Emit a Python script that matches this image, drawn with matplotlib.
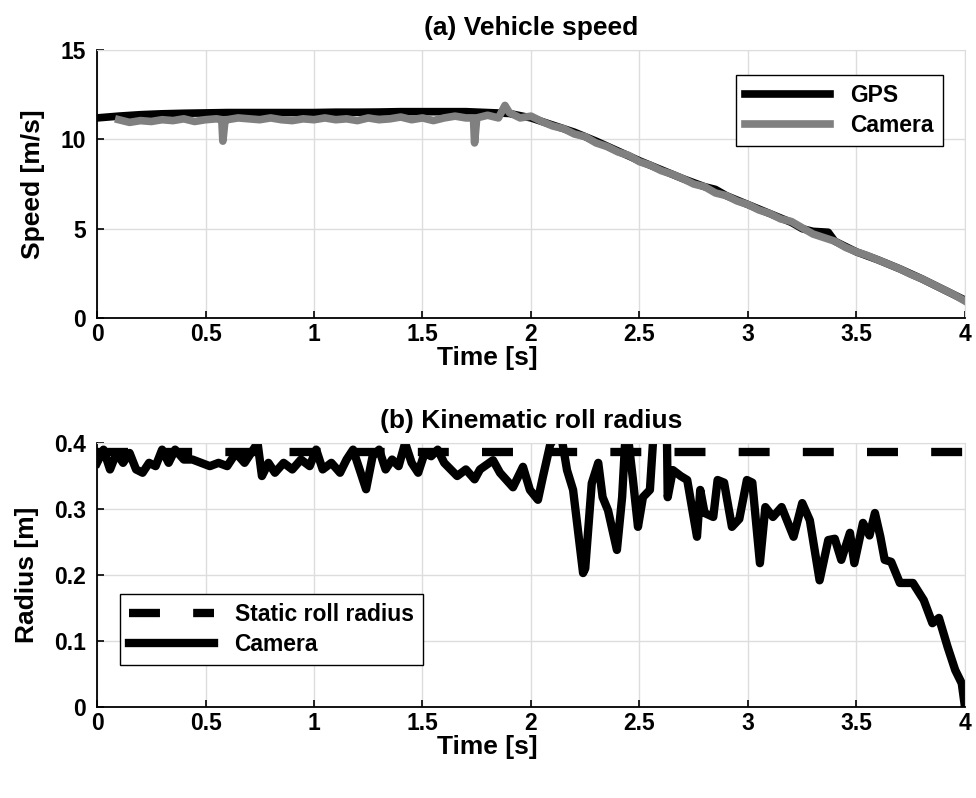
import matplotlib
matplotlib.use('Agg')
import matplotlib.pyplot as plt
import numpy as np

plt.rcParams['font.family'] = ['Liberation Sans', 'DejaVu Sans']
plt.rcParams['font.weight'] = 'bold'
plt.rcParams['axes.labelweight'] = 'bold'
plt.rcParams['axes.titleweight'] = 'bold'

# (a) vehicle speed
gps_t = [0.0, 0.1, 0.2, 0.3, 0.4, 0.5, 0.6, 0.7, 0.8, 0.9, 1.0, 1.1, 1.2, 1.3,
         1.4, 1.5, 1.6, 1.7, 1.8, 1.9, 2.0, 2.1, 2.2, 2.3, 2.4, 2.5, 2.6, 2.7,
         2.8, 2.85, 2.9, 3.0, 3.1, 3.2, 3.25, 3.3, 3.37, 3.4, 3.5, 3.6, 3.7,
         3.8, 3.9, 4.0]
gps_v = [11.2, 11.3, 11.38, 11.43, 11.46, 11.48, 11.5, 11.5, 11.5, 11.5, 11.5,
         11.52, 11.52, 11.53, 11.55, 11.55, 11.55, 11.55, 11.5, 11.45, 11.2,
         10.8, 10.4, 9.9, 9.35, 8.8, 8.3, 7.8, 7.35, 7.2, 6.85, 6.35, 5.85,
         5.35, 5.0, 4.85, 4.8, 4.3, 3.7, 3.25, 2.75, 2.2, 1.6, 1.0]

cam_t = [0.1, 0.15, 0.2, 0.25, 0.3, 0.35, 0.4, 0.45, 0.5, 0.55, 0.575, 0.58,
         0.59, 0.6, 0.65, 0.7, 0.75, 0.8, 0.85, 0.9, 0.95, 1.0, 1.05, 1.1,
         1.15, 1.2, 1.25, 1.3, 1.35, 1.4, 1.45, 1.5, 1.55, 1.6, 1.65, 1.7,
         1.735, 1.74, 1.75, 1.8, 1.85, 1.88, 1.9, 1.95, 2.0, 2.05, 2.1, 2.15,
         2.2, 2.25, 2.3, 2.35, 2.4, 2.45, 2.5, 2.55, 2.6, 2.65, 2.7, 2.75,
         2.8, 2.85, 2.9, 2.95, 3.0, 3.05, 3.1, 3.15, 3.2, 3.25, 3.3, 3.35,
         3.4, 3.45, 3.5, 3.55, 3.6, 3.65, 3.7, 3.75, 3.8, 3.85, 3.9, 3.95, 4.0]
cam_v = [11.1, 10.95, 11.05, 11.0, 11.1, 11.05, 11.15, 11.0, 11.1, 11.15,
         11.1, 9.9, 11.1, 11.1, 11.2, 11.15, 11.1, 11.2, 11.1, 11.05, 11.15,
         11.1, 11.2, 11.1, 11.15, 11.05, 11.2, 11.1, 11.15, 11.25, 11.1, 11.2,
         11.05, 11.2, 11.3, 11.2, 11.2, 9.8, 11.2, 11.35, 11.2, 11.9, 11.5,
         11.2, 11.3, 11.0, 10.75, 10.6, 10.3, 10.15, 9.8, 9.6, 9.3, 9.1, 8.75,
         8.55, 8.25, 8.05, 7.8, 7.5, 7.35, 7.0, 6.85, 6.55, 6.35, 6.05, 5.85,
         5.55, 5.4, 5.05, 4.7, 4.5, 4.3, 3.95, 3.7, 3.5, 3.25, 3.0, 2.75, 2.45,
         2.2, 1.9, 1.6, 1.3, 0.95]

# (b) kinematic roll radius
static_r = 0.387
rad_t = [0.0, 0.03, 0.06, 0.09, 0.12, 0.15, 0.18, 0.21, 0.24, 0.27, 0.3, 0.33,
         0.36, 0.4, 0.44, 0.48, 0.52, 0.56, 0.6, 0.64, 0.68, 0.72, 0.74, 0.76,
         0.79, 0.82, 0.86, 0.9, 0.94, 0.98, 1.01, 1.04, 1.08, 1.12, 1.15,
         1.18, 1.21, 1.24, 1.27, 1.3, 1.33, 1.36, 1.39, 1.42, 1.45, 1.48,
         1.51, 1.54, 1.57, 1.6, 1.63, 1.66, 1.7, 1.74, 1.765, 1.825, 1.857,
         1.917, 1.963, 1.995, 2.032, 2.055, 2.088, 2.11, 2.14, 2.166, 2.194,
         2.24, 2.25, 2.28, 2.31, 2.33, 2.355, 2.396, 2.42, 2.433, 2.447, 2.47,
         2.493, 2.516, 2.548, 2.562, 2.59, 2.625, 2.63, 2.654, 2.69, 2.72,
         2.765, 2.78, 2.8, 2.84, 2.86, 2.89, 2.926, 2.96, 2.995, 3.02, 3.055,
         3.08, 3.115, 3.155, 3.21, 3.25, 3.285, 3.33, 3.37, 3.4, 3.43, 3.47,
         3.49, 3.53, 3.56, 3.585, 3.61, 3.63, 3.66, 3.7, 3.76, 3.81, 3.85,
         3.88, 3.92, 3.955, 3.985, 4.0]
rad_r = [0.37, 0.39, 0.36, 0.385, 0.37, 0.385, 0.36, 0.355, 0.37, 0.365, 0.39,
         0.37, 0.39, 0.375, 0.375, 0.37, 0.365, 0.37, 0.365, 0.385, 0.37,
         0.39, 0.40, 0.35, 0.37, 0.355, 0.37, 0.36, 0.375, 0.365, 0.39, 0.36,
         0.37, 0.355, 0.375, 0.39, 0.36, 0.33, 0.38, 0.39, 0.36, 0.375, 0.365,
         0.40, 0.37, 0.355, 0.385, 0.38, 0.39, 0.37, 0.36, 0.35, 0.36, 0.345,
         0.36, 0.374, 0.355, 0.333, 0.364, 0.329, 0.314, 0.349, 0.397, 0.41,
         0.41, 0.359, 0.329, 0.203, 0.21, 0.339, 0.37, 0.318, 0.298, 0.238,
         0.318, 0.397, 0.41, 0.344, 0.273, 0.318, 0.329, 0.40, 0.45, 0.45,
         0.318, 0.359, 0.35, 0.344, 0.258, 0.329, 0.294, 0.288, 0.344, 0.34,
         0.273, 0.285, 0.344, 0.34, 0.218, 0.303, 0.288, 0.303, 0.258, 0.309,
         0.283, 0.192, 0.253, 0.255, 0.223, 0.264, 0.218, 0.279, 0.26, 0.294,
         0.258, 0.223, 0.22, 0.188, 0.188, 0.162, 0.127, 0.135, 0.091, 0.056,
         0.036, 0.0]

fig = plt.figure(figsize=(9.76, 7.98), dpi=100)
ax1 = fig.add_axes([0.0994, 0.6015, 0.8893, 0.3358])
ax2 = fig.add_axes([0.0994, 0.1140, 0.8893, 0.3308])

leg_kw = dict(fontsize=16.5, frameon=True, fancybox=False, edgecolor='black',
              framealpha=1, handlelength=3.7, handletextpad=0.9,
              borderpad=0.4, labelspacing=0.3, borderaxespad=0)

ax1.plot(gps_t, gps_v, color='black', lw=5.5, label='GPS')
ax1.plot(cam_t, cam_v, color='#808080', lw=5.5, label='Camera')
ax1.set_xlim(0, 4)
ax1.set_ylim(0, 15)
ax1.set_yticks([0, 5, 10, 15])
ax1.set_title('(a) Vehicle speed', fontsize=19, pad=11)
ax1.set_ylabel('Speed [m/s]', fontsize=19, labelpad=11)
ax1.set_xlabel('Time [s]', fontsize=19)
ax1.legend(loc='upper right', bbox_to_anchor=(0.975, 0.907), **leg_kw)

lw2 = 6
ax2.plot([0, 4], [static_r, static_r], color='black', lw=lw2,
         dashes=(22.3 / lw2, 23.9 / lw2), label='Static roll radius')
ax2.plot(rad_t, rad_r, color='black', lw=lw2, label='Camera')
ax2.set_xlim(0, 4)
ax2.set_ylim(0, 0.4)
ax2.set_yticks([0, 0.1, 0.2, 0.3, 0.4])
ax2.set_yticklabels(['0', '0.1', '0.2', '0.3', '0.4'])
ax2.set_title('(b) Kinematic roll radius', fontsize=19, pad=11)
ax2.set_ylabel('Radius [m]', fontsize=19, labelpad=11)
ax2.set_xlabel('Time [s]', fontsize=19)
ax2.legend(loc='lower left', bbox_to_anchor=(0.0265, 0.159), **leg_kw)

for ax in (ax1, ax2):
    ax.set_xticks(np.arange(0, 4.01, 0.5))
    ax.set_xticklabels(['0', '0.5', '1', '1.5', '2', '2.5', '3', '3.5', '4'])
    ax.xaxis.set_label_coords(0.45, -0.105)
    ax.grid(True, color='#dddddd', lw=1)
    ax.set_axisbelow(True)
    ax.tick_params(direction='in', labelsize=16.5, length=5, width=1.2)
    ax.tick_params(axis='y', pad=8)
    ax.spines['left'].set_linewidth(1.3)
    ax.spines['bottom'].set_linewidth(1.3)
    ax.spines['top'].set_color('#dddddd')
    ax.spines['right'].set_color('#dddddd')

fig.savefig('out.png', dpi=100)
